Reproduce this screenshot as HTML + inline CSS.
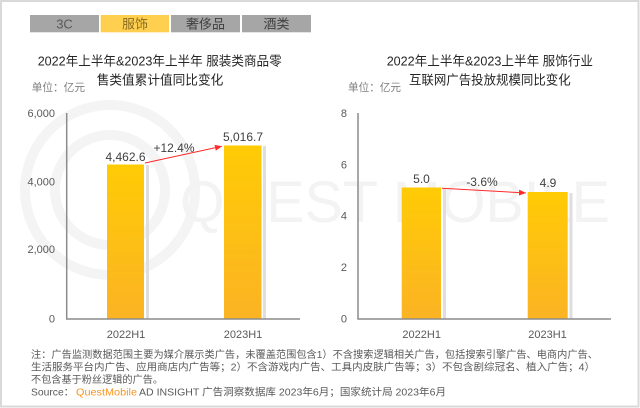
<!DOCTYPE html>
<html><head><meta charset="utf-8"><style>
html,body{margin:0;padding:0;background:#fff;}
svg{display:block;font-family:"Liberation Sans","Noto Sans CJK SC",sans-serif;}
</style></head><body>
<svg width="640" height="408" viewBox="0 0 640 408" xmlns="http://www.w3.org/2000/svg">
<defs>
<linearGradient id="g" x1="0" y1="0" x2="0" y2="1">
<stop offset="0" stop-color="#ffcb05"/>
<stop offset="1" stop-color="#fbb324"/>
</linearGradient>
<marker id="ah" markerWidth="8" markerHeight="8" refX="7" refY="4" orient="auto" markerUnits="userSpaceOnUse">
<path d="M0,1 L7,4 L0,7 Z" fill="#ff2a2a"/>
</marker>
</defs>
<rect x="0" y="0" width="640" height="408" fill="#fff"/>
<rect x="1" y="1" width="637.5" height="405.5" fill="none" stroke="#d9d9d9" stroke-width="2"/>

<!-- watermark -->
<g fill="none" stroke="#f4f4f4" stroke-width="10">
<circle cx="110" cy="190" r="85"/>
<circle cx="110" cy="190" r="55"/>
</g>
<text x="180" y="222" font-size="58" fill="#f3f3f3" textLength="430" lengthAdjust="spacingAndGlyphs">QUEST MOBILE</text>

<!-- tabs -->
<rect x="30" y="15" width="69" height="17.3" fill="#a6a6a6"/>
<rect x="100.7" y="15" width="68.3" height="17.3" fill="#ffd04f"/>
<rect x="171" y="15" width="69" height="17.3" fill="#a6a6a6"/>
<rect x="242" y="15" width="69" height="17.3" fill="#a6a6a6"/>
<g font-size="13" text-anchor="middle">
<text x="64.5" y="28.3" fill="#595959">3C</text>
<text x="135" y="28.3" fill="#8a6a1f">服饰</text>
<text x="205.5" y="28.3" fill="#404040">奢侈品</text>
<text x="276.5" y="28.3" fill="#404040">酒类</text>
</g>

<!-- titles -->
<g font-size="13" fill="#262626">
<text x="37.7" y="65.5" textLength="244" lengthAdjust="spacingAndGlyphs">2022年上半年&amp;2023年上半年 服装类商品零</text>
<text x="96.7" y="84.5" textLength="126.6" lengthAdjust="spacingAndGlyphs">售类值累计值同比变化</text>
<text x="386.7" y="65.5" textLength="206.3" lengthAdjust="spacingAndGlyphs">2022年上半年&amp;2023上半年 服饰行业</text>
<text x="409" y="84.5" textLength="161.7" lengthAdjust="spacingAndGlyphs">互联网广告投放规模同比变化</text>
</g>
<g font-size="11" fill="#7f7f7f">
<text x="31.7" y="91" textLength="53.3" lengthAdjust="spacingAndGlyphs">单位：亿元</text>
<text x="348" y="91" textLength="53" lengthAdjust="spacingAndGlyphs">单位：亿元</text>
</g>

<!-- left chart -->
<g font-size="11" fill="#595959" text-anchor="end">
<text x="55" y="117">6,000</text>
<text x="55" y="185.7">4,000</text>
<text x="55" y="253">2,000</text>
<text x="55" y="322.7">0</text>
</g>
<rect x="146" y="165" width="3" height="154" fill="#dedede"/>
<rect x="263" y="146" width="3" height="173" fill="#dedede"/>
<rect x="107" y="164.5" width="37" height="154.5" fill="url(#g)"/>
<rect x="224" y="145.5" width="37.5" height="173.5" fill="url(#g)"/>
<line x1="66.7" y1="113" x2="66.7" y2="319" stroke="#8c8c8c" stroke-width="1.5"/>
<line x1="66" y1="319" x2="300" y2="319" stroke="#8c8c8c" stroke-width="1.5"/>
<line x1="145" y1="163" x2="222" y2="146.3" stroke="#ff2a2a" stroke-width="1" marker-end="url(#ah)"/>
<g font-size="12" fill="#404040" text-anchor="middle">
<text x="125.5" y="161">4,462.6</text>
<text x="243" y="141">5,016.7</text>
<text x="174" y="152">+12.4%</text>
</g>
<g font-size="11" fill="#595959" text-anchor="middle">
<text x="126" y="338">2022H1</text>
<text x="243" y="338">2023H1</text>
</g>

<!-- right chart -->
<g font-size="11" fill="#595959" text-anchor="end">
<text x="347" y="117">8</text>
<text x="347" y="168.5">6</text>
<text x="347" y="219.5">4</text>
<text x="347" y="271">2</text>
<text x="347" y="322.7">0</text>
</g>
<rect x="443" y="188" width="3" height="131" fill="#dedede"/>
<rect x="569.5" y="193" width="3" height="126" fill="#dedede"/>
<rect x="401.7" y="187.5" width="39.3" height="131.5" fill="url(#g)"/>
<rect x="527.7" y="192" width="40" height="127" fill="url(#g)"/>
<line x1="358" y1="113" x2="358" y2="319" stroke="#8c8c8c" stroke-width="1.5"/>
<line x1="357.3" y1="319" x2="611" y2="319" stroke="#8c8c8c" stroke-width="1.5"/>
<line x1="442" y1="188.3" x2="526" y2="193" stroke="#ff2a2a" stroke-width="1" marker-end="url(#ah)"/>
<g font-size="12" fill="#404040" text-anchor="middle">
<text x="421.5" y="183">5.0</text>
<text x="548" y="187">4.9</text>
<text x="482" y="186">-3.6%</text>
</g>
<g font-size="11" fill="#595959" text-anchor="middle">
<text x="421.7" y="338">2022H1</text>
<text x="547.5" y="338">2023H1</text>
</g>

<!-- footnote -->
<g font-size="10.3" fill="#595959">
<text x="31" y="358" textLength="567" lengthAdjust="spacingAndGlyphs">注：广告监测数据范围主要为媒介展示类广告，未覆盖范围包含1）不含搜索逻辑相关广告，包括搜索引擎广告、电商内广告、</text>
<text x="31" y="370.5" textLength="564" lengthAdjust="spacingAndGlyphs">生活服务平台内广告、应用商店内广告等；2）不含游戏内广告、工具内皮肤广告等；3）不包含剧综冠名、植入广告；4）</text>
<text x="31" y="383" textLength="132" lengthAdjust="spacingAndGlyphs">不包含基于粉丝逻辑的广告。</text>
<text x="31" y="395.5" textLength="43" lengthAdjust="spacingAndGlyphs">Source：</text>
<text x="76" y="395.5" fill="#f7941d" textLength="61" lengthAdjust="spacingAndGlyphs">QuestMobile</text>
<text x="139" y="395.5" textLength="307" lengthAdjust="spacingAndGlyphs">AD INSIGHT 广告洞察数据库 2023年6月；国家统计局 2023年6月</text>
</g>
</svg>
</body></html>
